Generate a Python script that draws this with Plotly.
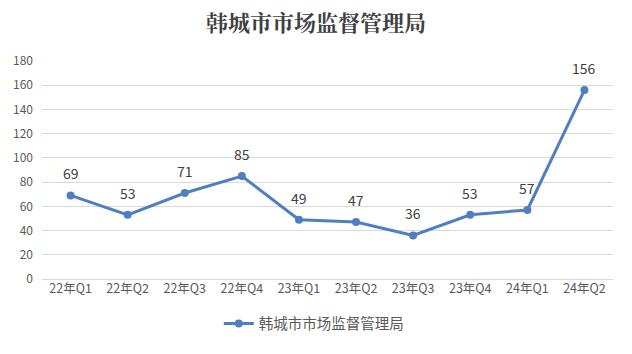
import plotly.graph_objects as go

categories = ["22年Q1", "22年Q2", "22年Q3", "22年Q4", "23年Q1", "23年Q2", "23年Q3", "23年Q4", "24年Q1", "24年Q2"]
values = [69, 53, 71, 85, 49, 47, 36, 53, 57, 156]
series_name = "韩城市市场监督管理局"
y_ticks = [0, 20, 40, 60, 80, 100, 120, 140, 160, 180]

font_cjk = "Noto Sans CJK SC"
blue = "#4F7FBE"

fig = go.Figure()
fig.add_trace(go.Scatter(
    x=categories, y=values, name=series_name,
    mode="lines+markers",
    line=dict(color=blue, width=3),
    marker=dict(color=blue, size=8),
))

for c, v in zip(categories, values):
    fig.add_annotation(x=c, y=v, text=str(v), showarrow=False, yshift=22,
                       font=dict(family=font_cjk, size=14, color="#404040"))

fig.update_layout(
    width=632, height=354,
    margin=dict(l=42, r=19, t=61, b=75),
    paper_bgcolor="white", plot_bgcolor="white",
    title=dict(text="<b>韩城市市场监督管理局</b>", x=0.5, xanchor="center", y=0.935, yanchor="middle",
               font=dict(family="Noto Serif CJK SC, " + font_cjk, size=22, color="#404040")),
    font=dict(family=font_cjk, color="#595959"),
    showlegend=True,
    legend=dict(orientation="h", x=0.476, xanchor="center", y=-0.205, yanchor="middle",
                font=dict(family=font_cjk, size=14.5, color="#595959")),
    xaxis=dict(range=[-0.5, 9.5], showgrid=False, showline=False, ticks="",
               tickfont=dict(size=12.5, color="#595959")),
    yaxis=dict(range=[0, 180], tickvals=y_ticks, showgrid=True, gridcolor="#D9D9D9", gridwidth=1,
               zeroline=True, zerolinecolor="#D9D9D9", zerolinewidth=1,
               tickfont=dict(size=12, color="#595959"), ticklabelstandoff=8),
)

fig.write_html("out.html")
